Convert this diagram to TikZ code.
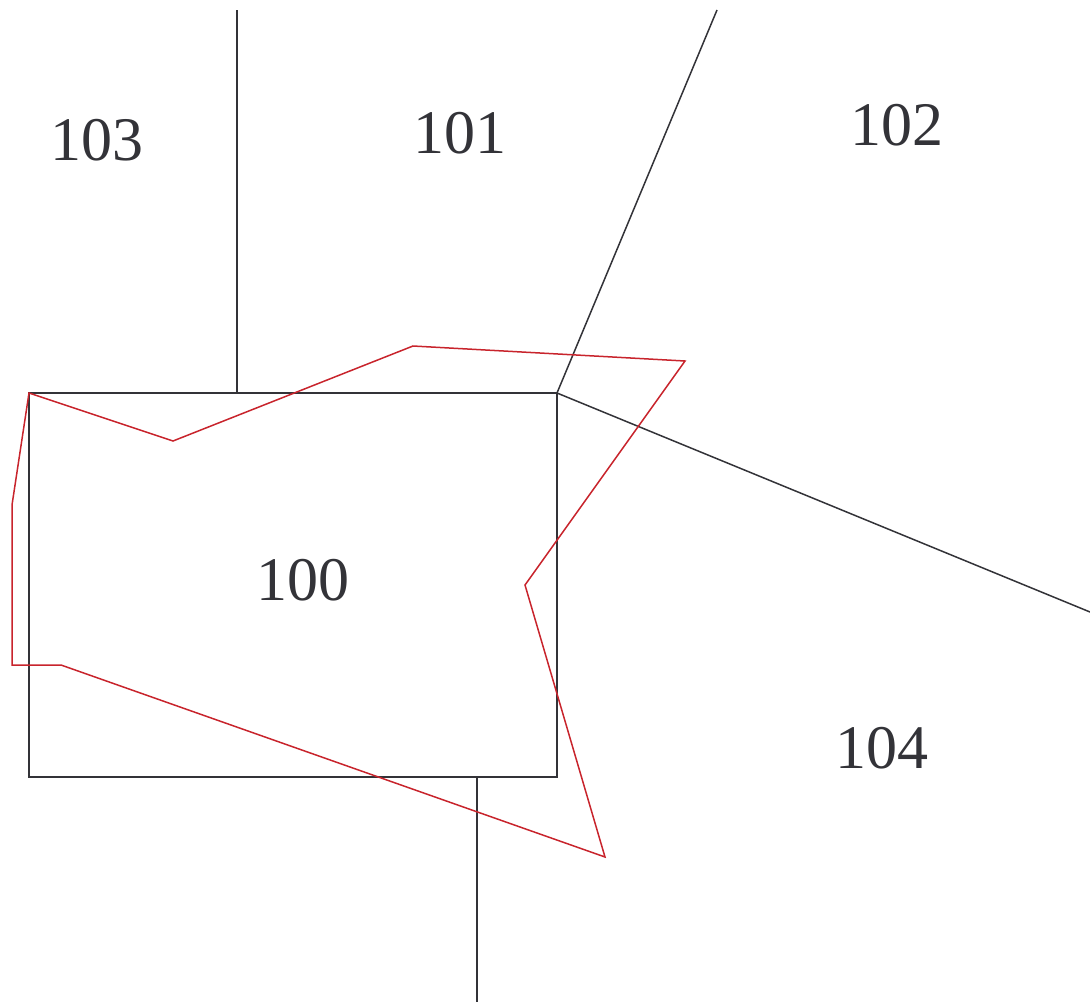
\documentclass[tikz,border=0pt]{standalone}
\usepackage{fontspec}
\setmainfont{Liberation Serif}
\definecolor{ink}{HTML}{333338}
\definecolor{redl}{HTML}{C8242C}
\tikzset{
  edge/.style={draw=ink, line width=1.5pt},
  poly/.style={draw=redl, line width=1.5pt, line join=miter},
  lbl/.style={text=ink, font=\fontsize{62}{62}\selectfont, anchor=base, inner sep=0pt}
}
\begin{document}
\begin{tikzpicture}[x=1pt,y=-1pt]
\useasboundingbox (0,0) rectangle (1090,1002);
% rectangle corners
\coordinate (tl) at (29,393);
\coordinate (tr) at (557,393);
\coordinate (br) at (557,777);
\coordinate (bl) at (29,777);
\coordinate (ta) at (237,393);
\coordinate (ba) at (477,777);
\coordinate (e1) at (237,10);
\coordinate (e2) at (717,10);
\coordinate (e3) at (1090,612);
\coordinate (e4) at (477,1002);
\draw[edge] (tl) -- (tr) -- (br) -- (bl) -- cycle;
\draw[edge] (ta) -- (e1);
\draw[edge] (tr) -- (e2);
\draw[edge] (tr) -- (e3);
\draw[edge] (ba) -- (e4);
% red polygon
\coordinate (p1) at (29,393);
\coordinate (p2) at (173,441);
\coordinate (p3) at (413,346);
\coordinate (p4) at (685,361);
\coordinate (p5) at (525,585);
\coordinate (p6) at (605,857);
\coordinate (p7) at (61,665);
\coordinate (p8) at (12,665);
\coordinate (p9) at (12,505);
\draw[poly] (p1) -- (p2) -- (p3) -- (p4) -- (p5) -- (p6) -- (p7) -- (p8) -- (p9) -- cycle;
% labels
\node[lbl] (l103) at (97,160) {103};
\node[lbl] (l101) at (460,153) {101};
\node[lbl] (l102) at (897,145) {102};
\node[lbl] (l100) at (303,600) {100};
\node[lbl] (l104) at (882,768) {104};
\end{tikzpicture}
\end{document}
